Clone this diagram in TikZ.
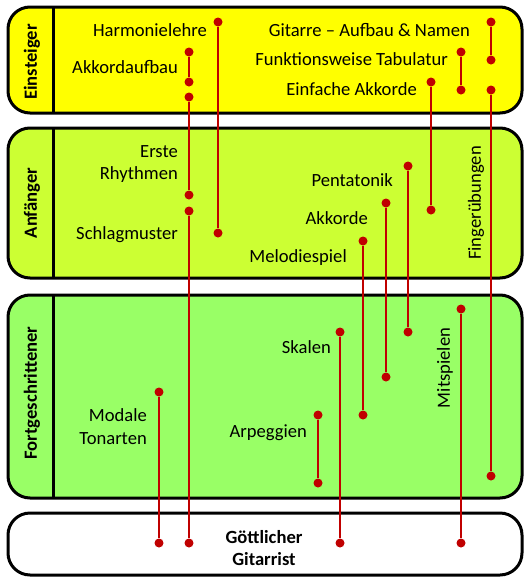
\documentclass[tikz,border=0pt]{standalone}
\usepackage{fontspec}
\setmainfont{Carlito}
\usepackage{tikz}

\definecolor{einsteigfill}{HTML}{FFFF00}
\definecolor{anfaengerfill}{HTML}{CCFF33}
\definecolor{fortfill}{HTML}{99FF66}
\definecolor{pathred}{HTML}{C00000}

\begin{document}
\begin{tikzpicture}[x=1pt,y=-1pt,
    font=\fontsize{18.6}{22.3}\selectfont,
    band/.style={draw=black, line width=3pt, rounded corners=22pt},
    divider/.style={draw=black, line width=3pt},
    stage/.style={rotate=90, font=\fontsize{18.6}{22.3}\selectfont\bfseries},
    topic/.style={anchor=base east, inner sep=0pt},
    dot/.style={circle, fill=pathred, inner sep=0pt, minimum size=9pt},
    link/.style={draw=pathred, line width=2pt}]
    \useasboundingbox (0,0) rectangle (530,584);

    % Draw bands
    \filldraw[band, fill=einsteigfill] (8,7) rectangle (522,113);
    \filldraw[band, fill=anfaengerfill] (8,128) rectangle (522,278);
    \filldraw[band, fill=fortfill] (8,295) rectangle (522,498);
    \filldraw[band, fill=white] (8,513) rectangle (522,575);
    \draw[divider] (53,7) -- (53,113);
    \draw[divider] (53,128) -- (53,278);
    \draw[divider] (53,295) -- (53,498);

    % Stage labels
    \node[stage] (einsteiger) at (32,62) {Einsteiger};
    \node[stage] (anfaenger) at (32,203) {Anfänger};
    \node[stage] (fortgeschr) at (32,393) {Fortgeschrittener};
    \node[font=\fontsize{18.6}{22.3}\selectfont\bfseries, align=center] (gott) at (264,548) {Göttlicher\\Gitarrist};

    % Topics
    \node[topic] (harmonie) at (207,36) {Harmonielehre};
    \node[topic] (aufbau) at (178,73) {Akkordaufbau};
    \node[topic] (namen) at (470,36) {Gitarre – Aufbau \& Namen};
    \node[topic] (tabulatur) at (448,65) {Funktionsweise Tabulatur};
    \node[topic] (einfach) at (417,95) {Einfache Akkorde};
    \node[topic] (erste) at (178,157) {Erste};
    \node[topic] (rhythmen) at (178,179) {Rhythmen};
    \node[topic] (schlag) at (178,239) {Schlagmuster};
    \node[topic] (penta) at (393,186) {Pentatonik};
    \node[topic] (akkorde) at (368,224) {Akkorde};
    \node[topic] (melodie) at (347,262) {Melodiespiel};
    \node[topic] (skalen) at (331,353) {Skalen};
    \node[topic] (arpeggien) at (307,437) {Arpeggien};
    \node[topic] (modale) at (147,421) {Modale};
    \node[topic] (tonarten) at (147,444) {Tonarten};
    \node[rotate=90] (finger) at (476,203) {Fingerübungen};
    \node[rotate=90] (mitspielen) at (445,368) {Mitspielen};

    % Dots
    \node[dot] (ak1) at (189,52) {};   \node[dot] (ak2) at (189,82) {};
    \node[dot] (rh1) at (189,97) {};   \node[dot] (rh2) at (189,195) {};
    \node[dot] (sm1) at (189,211) {};  \node[dot] (sm2) at (189,543) {};
    \node[dot] (hl1) at (218,22) {};   \node[dot] (hl2) at (218,233) {};
    \node[dot] (gn1) at (491,22) {};   \node[dot] (gn2) at (491,60) {};
    \node[dot] (tb1) at (461,52) {};   \node[dot] (tb2) at (461,90) {};
    \node[dot] (ea1) at (431,82) {};   \node[dot] (ea2) at (431,210) {};
    \node[dot] (fu1) at (491,90) {};   \node[dot] (fu2) at (491,476) {};
    \node[dot] (pt1) at (408,166) {};  \node[dot] (pt2) at (408,332) {};
    \node[dot] (ac1) at (386,203) {};  \node[dot] (ac2) at (386,377) {};
    \node[dot] (md1) at (363,241) {};  \node[dot] (md2) at (363,415) {};
    \node[dot] (sk1) at (340,332) {};  \node[dot] (sk2) at (340,543) {};
    \node[dot] (ar1) at (318,415) {};  \node[dot] (ar2) at (318,483) {};
    \node[dot] (ms1) at (461,309) {};  \node[dot] (ms2) at (461,543) {};
    \node[dot] (mt1) at (159,392) {};  \node[dot] (mt2) at (159,543) {};

    % Draw links
    \draw[link] (ak1) -- (ak2);
    \draw[link] (rh1) -- (rh2);
    \draw[link] (sm1) -- (sm2);
    \draw[link] (hl1) -- (hl2);
    \draw[link] (gn1) -- (gn2);
    \draw[link] (tb1) -- (tb2);
    \draw[link] (ea1) -- (ea2);
    \draw[link] (fu1) -- (fu2);
    \draw[link] (pt1) -- (pt2);
    \draw[link] (ac1) -- (ac2);
    \draw[link] (md1) -- (md2);
    \draw[link] (sk1) -- (sk2);
    \draw[link] (ar1) -- (ar2);
    \draw[link] (ms1) -- (ms2);
    \draw[link] (mt1) -- (mt2);
\end{tikzpicture}
\end{document}
